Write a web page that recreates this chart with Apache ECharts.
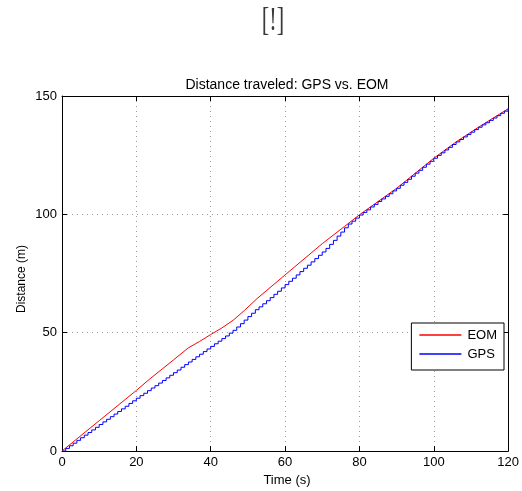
<!DOCTYPE html>
<html>
<head>
<meta charset="utf-8">
<script src="https://cdn.jsdelivr.net/npm/echarts/dist/echarts.min.js"></script>
<style>
  html, body { margin: 0; padding: 0; background: #ffffff; }
  #chart { width: 522px; height: 491px; }
</style>
</head>
<body>
<div id="chart"></div>
<script>
// Equation-of-motion estimate: breakpoints of the distance curve (s, m)
const eomTime = [0, 10, 20, 23.5, 30, 34, 37, 40, 43, 46, 49, 52.4, 60, 70, 76, 80, 90, 100, 106, 112, 120];
const eomDist = [0, 12.8, 25.6, 30.3, 38.5, 43.6, 46.3, 49.2, 52.0, 55.2, 59.3, 64.3, 74.4, 87.6, 94.9, 99.8, 111.0, 123.7, 130.6, 136.8, 144.6];

// GPS fixes, one per second starting at t = 0 (m)
const gpsStart = 0;
const gpsPeriod = 1;
const gpsDist = [
  0, 1.1, 2.2, 3.3, 4.5, 5.6, 6.7, 7.8, 8.9, 10.0,
  11.2, 12.3, 13.4, 14.5, 15.6, 16.7, 17.8, 18.9, 20.1, 21.2,
  22.3, 23.4, 24.4, 25.5, 26.6, 27.6, 28.7, 29.8, 30.9, 32.0,
  33.1, 34.2, 35.4, 36.5, 37.6, 38.7, 39.8, 40.9, 42.0, 43.1,
  44.2, 45.3, 46.4, 47.5, 48.6, 49.8, 51.0, 52.4, 53.8, 55.3,
  56.8, 58.2, 59.7, 60.9, 62.2, 63.5, 64.8, 66.2, 67.5, 68.9,
  70.3, 71.7, 73.0, 74.4, 75.8, 77.2, 78.5, 79.9, 81.3, 82.7,
  84.1, 85.6, 87.3, 89.0, 90.8, 92.5, 94.3, 95.9, 97.1, 98.4,
  99.7, 100.8, 101.9, 103.1, 104.2, 105.4, 106.5, 107.6, 108.7, 109.9,
  111.0, 112.3, 113.5, 114.8, 116.1, 117.4, 118.6, 119.9, 121.2, 122.4,
  123.7, 124.9, 126.0, 127.2, 128.3, 129.5, 130.6, 131.6, 132.7, 133.7,
  134.7, 135.8, 136.8, 137.8, 138.7, 139.7, 140.7, 141.7, 142.7, 143.6,
  144.6
];

// Axis settings
const xTicks = { min: 0, max: 120, interval: 20 };
const yTicks = { min: 0, max: 150, interval: 50 };

const titleText = 'Distance traveled: GPS vs. EOM';
const xName = 'Time (s)';
const yName = 'Distance (m)';

const FONT = '"Liberation Sans", Arial, Helvetica, sans-serif';

const eomData = eomTime.map((t, i) => [t, eomDist[i]]);
const gpsData = gpsDist.map((d, i) => [gpsStart + i * gpsPeriod, d]);

const chart = echarts.init(document.getElementById('chart'), null, { renderer: 'canvas' });

const gridLeft = 62, gridRight = 10, gridTop = 96, gridBottom = 40;

const boxLine = { show: true, onZero: false, lineStyle: { color: '#000', width: 1 } };
const inTick = { show: true, inside: true, length: 5, lineStyle: { color: '#000', width: 1 } };
const dotted = { show: true, lineStyle: { color: '#9a9a9a', width: 1, type: [1, 4] } };

chart.setOption({
  animation: false,
  backgroundColor: '#ffffff',
  textStyle: { fontFamily: FONT },
  grid: { left: gridLeft, right: gridRight, top: gridTop, bottom: gridBottom, containLabel: false },
  xAxis: [
    {
      type: 'value', position: 'bottom', ...xTicks,
      axisLine: boxLine, axisTick: inTick, splitLine: dotted,
      axisLabel: { color: '#000', fontSize: 13, fontFamily: FONT, margin: 5 }
    },
    {
      type: 'value', position: 'top', ...xTicks,
      axisLine: boxLine, axisTick: inTick, splitLine: { show: false },
      axisLabel: { show: false }
    }
  ],
  yAxis: [
    {
      type: 'value', position: 'left', ...yTicks,
      axisLine: boxLine, axisTick: inTick, splitLine: dotted,
      axisLabel: { color: '#000', fontSize: 13, fontFamily: FONT, margin: 5 }
    },
    {
      type: 'value', position: 'right', ...yTicks,
      axisLine: boxLine, axisTick: inTick, splitLine: { show: false },
      axisLabel: { show: false }
    }
  ],
  legend: {
    right: 18, top: 323,
    orient: 'vertical',
    backgroundColor: '#ffffff',
    borderColor: '#000', borderWidth: 1, borderRadius: 0,
    padding: [5, 7, 9, 8],
    itemGap: 5,
    itemWidth: 42, itemHeight: 1.5,
    icon: 'rect',
    selectedMode: false,
    textStyle: { color: '#000', fontSize: 13, fontFamily: FONT, lineHeight: 14, padding: [0, 0, 0, 1] },
    data: ['EOM', 'GPS']
  },
  series: [
    {
      name: 'EOM', type: 'line', data: eomData,
      xAxisIndex: 0, yAxisIndex: 0,
      showSymbol: false, symbol: 'none',
      lineStyle: { color: '#ff0000', width: 1 },
      itemStyle: { color: '#ff0000' },
      z: 3
    },
    {
      name: 'GPS', type: 'line', data: gpsData, step: 'end',
      xAxisIndex: 0, yAxisIndex: 0,
      showSymbol: false, symbol: 'none',
      lineStyle: { color: '#0000ff', width: 1 },
      itemStyle: { color: '#0000ff' },
      z: 4
    }
  ],
  graphic: [
    {
      type: 'text', x: 273, y: 21, scaleX: 0.66,
      style: { text: '[!]', font: '34px "Liberation Serif", "Times New Roman", serif', fill: '#3a3a3a', textAlign: 'center', textVerticalAlign: 'middle' }
    },
    {
      type: 'text', x: 287, y: 85,
      style: { text: titleText, font: '14px ' + FONT, fill: '#000', textAlign: 'center', textVerticalAlign: 'middle' }
    },
    {
      type: 'text', x: 287, y: 480,
      style: { text: xName, font: '13px ' + FONT, fill: '#000', textAlign: 'center', textVerticalAlign: 'middle' }
    },
    {
      type: 'text', x: 22, y: 279, rotation: Math.PI / 2,
      style: { text: yName, font: '12px ' + FONT, fill: '#000', textAlign: 'center', textVerticalAlign: 'middle' }
    }
  ]
});
</script>
</body>
</html>
